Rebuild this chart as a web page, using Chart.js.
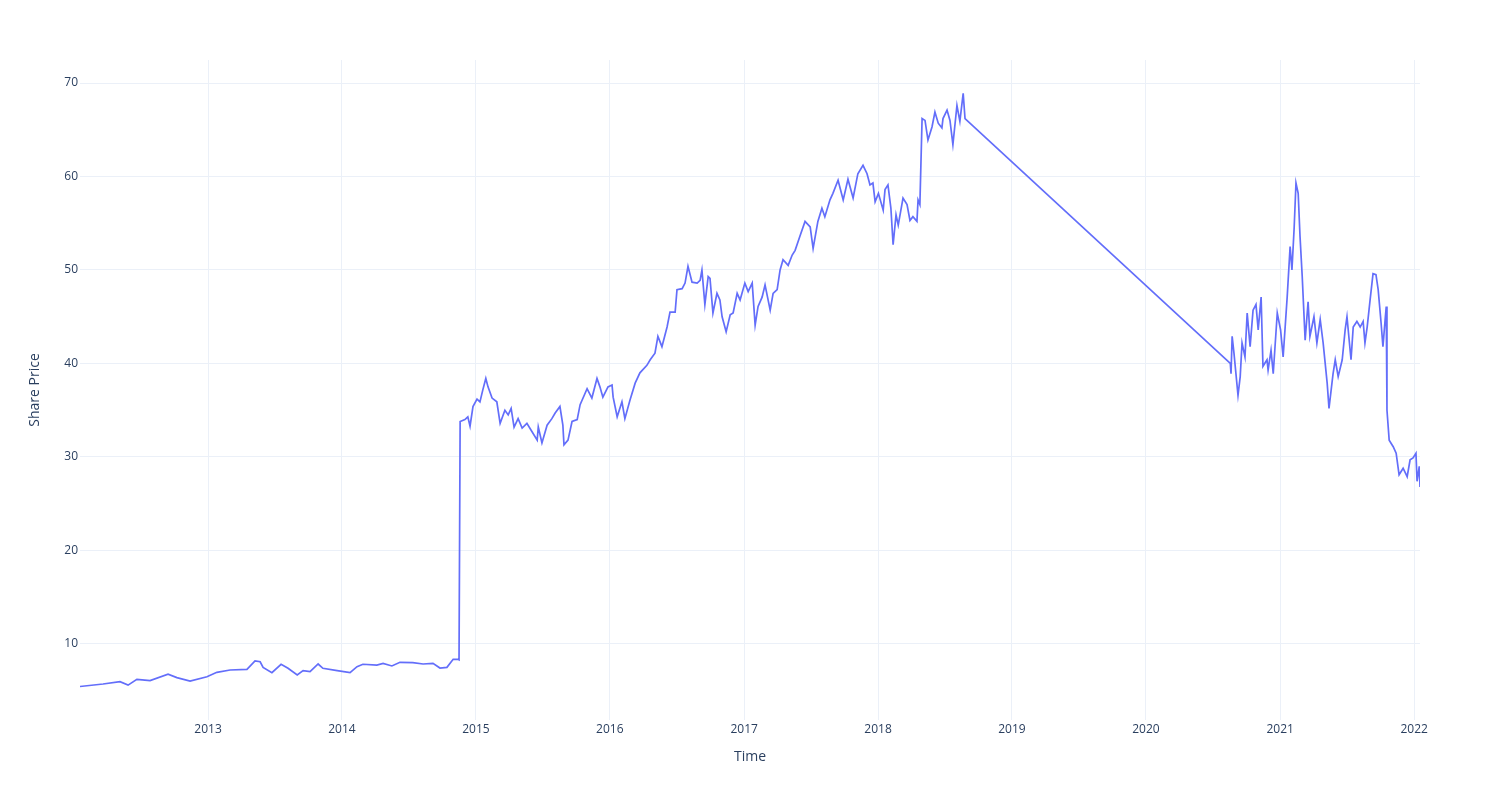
<!DOCTYPE html>
<html>
<head>
<meta charset="utf-8">
<script src="https://cdn.jsdelivr.net/npm/chart.js@4/dist/chart.umd.min.js"></script>
<style>
  body { margin: 0; background: #fff; }
  #wrap { width: 1500px; height: 800px; }
</style>
</head>
<body>
<div id="wrap"><canvas id="chart" width="1500" height="800"></canvas></div>
<script>
// share price
const dates = [
  '2012-01-18','2012-03-21','2012-05-06','2012-05-28','2012-06-21','2012-07-27','2012-09-14','2012-10-08','2012-11-13','2012-12-29',
  '2013-01-25','2013-03-02','2013-04-17','2013-05-09','2013-05-23','2013-05-31','2013-06-24','2013-07-19','2013-08-07','2013-09-01',
  '2013-09-17','2013-10-06','2013-10-28','2013-11-10','2013-12-19',
  '2014-01-23','2014-02-11','2014-02-27','2014-04-06','2014-04-23','2014-05-17','2014-06-08','2014-07-13','2014-08-10','2014-09-06',
  '2014-09-25','2014-10-14','2014-10-31','2014-11-13','2014-11-16','2014-11-19','2014-12-02','2014-12-10','2014-12-16','2014-12-24',
  '2015-01-04','2015-01-12','2015-01-20','2015-01-28','2015-02-03','2015-02-14','2015-02-27','2015-03-08','2015-03-21','2015-03-30',
  '2015-04-07','2015-04-15','2015-04-26','2015-05-07','2015-05-20','2015-06-03','2015-06-17','2015-06-20','2015-06-30','2015-07-14',
  '2015-07-27','2015-08-05','2015-08-18','2015-08-26','2015-08-29','2015-09-09','2015-09-20','2015-10-04','2015-10-12','2015-10-31',
  '2015-11-13','2015-11-27','2015-12-05','2015-12-13','2015-12-27',
  '2016-01-07','2016-01-10','2016-01-21','2016-02-03','2016-02-11','2016-02-25','2016-03-10','2016-03-23','2016-04-11','2016-04-20',
  '2016-05-03','2016-05-11','2016-05-22','2016-06-05','2016-06-13','2016-06-27','2016-07-02','2016-07-16','2016-07-24','2016-08-01',
  '2016-08-12','2016-08-26','2016-09-03','2016-09-08','2016-09-16','2016-09-25','2016-09-30','2016-10-08','2016-10-19','2016-10-27',
  '2016-11-02','2016-11-13','2016-11-24','2016-12-02','2016-12-13','2016-12-21',
  '2017-01-03','2017-01-12','2017-01-23','2017-01-31','2017-02-08','2017-02-19','2017-02-27','2017-03-13','2017-03-21','2017-04-01',
  '2017-04-09','2017-04-17','2017-05-01','2017-05-12','2017-05-20','2017-06-02','2017-06-16','2017-06-30','2017-07-08','2017-07-21',
  '2017-08-01','2017-08-09','2017-08-23','2017-08-31','2017-09-14','2017-09-28','2017-10-11','2017-10-25','2017-11-07','2017-11-21',
  '2017-12-02','2017-12-10','2017-12-18','2017-12-24',
  '2018-01-02','2018-01-15','2018-01-20','2018-01-28','2018-02-05','2018-02-11','2018-02-19','2018-02-25','2018-03-10','2018-03-21',
  '2018-03-29','2018-04-06','2018-04-17','2018-04-20','2018-04-25','2018-05-01','2018-05-09','2018-05-17','2018-05-28','2018-06-05',
  '2018-06-14','2018-06-24','2018-06-27','2018-07-08','2018-07-16','2018-07-24','2018-08-04','2018-08-12','2018-08-21','2018-08-26',
  '2020-08-18','2020-08-20','2020-08-23','2020-08-28','2020-09-08','2020-09-14','2020-09-19','2020-09-27','2020-10-03','2020-10-11',
  '2020-10-19','2020-10-27','2020-11-02','2020-11-10','2020-11-15','2020-11-26','2020-11-29','2020-12-07','2020-12-13','2020-12-24',
  '2021-01-02','2021-01-09','2021-01-20','2021-01-28','2021-02-02','2021-02-08','2021-02-13','2021-02-19','2021-02-24','2021-03-02',
  '2021-03-10','2021-03-18','2021-03-23','2021-04-03','2021-04-11','2021-04-20','2021-04-28','2021-05-09','2021-05-14','2021-05-25',
  '2021-05-31','2021-06-08','2021-06-19','2021-06-27','2021-07-02','2021-07-13','2021-07-19','2021-07-29','2021-08-07','2021-08-15',
  '2021-08-20','2021-08-26','2021-09-03','2021-09-11','2021-09-19','2021-09-25','2021-10-03','2021-10-08','2021-10-14','2021-10-17',
  '2021-10-19','2021-10-25','2021-11-05','2021-11-13','2021-11-21','2021-12-02','2021-12-13','2021-12-21','2021-12-29',
  '2022-01-06','2022-01-09','2022-01-15','2022-01-17'
];

const prices = [
  5.45, 5.72, 5.97, 5.6, 6.22, 6.08, 6.76, 6.4, 6.04, 6.5,
  6.97, 7.22, 7.29, 8.18, 8.1, 7.5, 6.93, 7.83, 7.4, 6.68,
  7.15, 7.04, 7.86, 7.4, 7.15,
  6.93, 7.58, 7.83, 7.75, 7.93, 7.65, 8.04, 8.0, 7.86, 7.93,
  7.43, 7.5, 8.36, 8.36, 8.3, 33.8, 34.0, 34.3, 33.3, 35.4,
  36.2, 35.9, 37.2, 38.4, 37.5, 36.3, 35.9, 33.6, 35.0, 34.5,
  35.2, 33.2, 34.1, 33.1, 33.6, 32.7, 31.8, 33.2, 31.5, 33.4,
  34.1, 34.7, 35.4, 33.4, 31.3, 31.8, 33.8, 34.0, 35.6, 37.3,
  36.3, 38.4, 37.5, 36.4, 37.5,
  37.7, 36.4, 34.3, 35.9, 34.1, 36.1, 37.9, 39.0, 39.8, 40.4,
  41.1, 42.9, 41.8, 43.9, 45.5, 45.5, 47.9, 48.0, 48.6, 50.4,
  48.7, 48.6, 48.9, 50.0, 46.3, 49.3, 49.1, 45.4, 47.5, 46.8,
  45.0, 43.4, 45.2, 45.4, 47.5, 46.8,
  48.6, 47.7, 48.6, 44.1, 46.1, 47.1, 48.4, 45.7, 47.5, 47.9,
  50.0, 51.1, 50.5, 51.6, 52.1, 53.6, 55.2, 54.6, 52.3, 55.2,
  56.6, 55.7, 57.5, 58.2, 59.6, 57.5, 59.7, 57.7, 60.3, 61.2,
  60.3, 59.1, 59.3, 57.3,
  58.2, 56.4, 58.6, 59.1, 56.6, 52.7, 55.9, 54.8, 57.7, 57.0,
  55.3, 55.7, 55.2, 57.5, 57.0, 66.2, 66.0, 63.9, 65.3, 66.9,
  65.7, 65.2, 66.2, 67.1, 66.0, 63.4, 67.6, 65.9, 68.9, 66.2,
  40.0, 38.9, 42.9, 41.1, 36.6, 38.6, 42.2, 40.7, 45.4, 41.8,
  45.7, 46.3, 43.6, 47.1, 39.7, 40.4, 39.3, 41.4, 38.9, 45.4,
  43.6, 40.7, 47.1, 52.5, 50.0, 54.5, 59.3, 58.2, 53.6, 49.3,
  42.5, 46.6, 42.9, 45.0, 42.2, 44.7, 42.2, 37.9, 35.2, 38.9,
  40.4, 38.6, 40.4, 43.6, 45.0, 40.4, 43.9, 44.5, 43.9, 44.5,
  42.2, 43.9, 46.8, 49.6, 49.5, 47.9, 44.3, 41.8, 44.7, 46.1,
  35.0, 31.8, 31.1, 30.4, 28.1, 28.8, 27.9, 29.7, 29.9,
  30.4, 27.4, 29.0, 26.8
];

const yearTicks = [2013, 2014, 2015, 2016, 2017, 2018, 2019, 2020, 2021, 2022];

const textColor = '#2a3f5f';
const gridColor = '#ebf0f8';
Chart.defaults.font.family = '"Open Sans", "DejaVu Sans", sans-serif';
Chart.defaults.color = textColor;

const points = dates.map((d, i) => ({ x: Date.parse(d), y: prices[i] }));

const ctx = document.getElementById('chart').getContext('2d');
new Chart(ctx, {
  type: 'line',
  data: {
    datasets: [{
      label: 'Share Price',
      data: points,
      borderColor: '#636efa',
      borderWidth: 1.7,
      pointRadius: 0,
      tension: 0,
      fill: false,
    }],
  },
  options: {
    responsive: false,
    animation: false,
    layout: { padding: { left: 0, right: 80, top: 60, bottom: 0 } },
    plugins: { legend: { display: false }, tooltip: { enabled: false } },
    scales: {
      x: {
        type: 'linear',
        min: Date.parse(dates[0]),
        max: Date.parse(dates[dates.length - 1]),
        afterBuildTicks: (scale) => {
          scale.ticks = yearTicks.map((y) => ({ value: Date.UTC(y, 0, 1) }));
        },
        afterFit: (scale) => { scale.height = 80; },
        ticks: {
          autoSkip: false,
          maxRotation: 0,
          padding: 2,
          font: { size: 12 },
          callback: (v) => new Date(v).getUTCFullYear(),
        },
        grid: { color: gridColor, drawTicks: false },
        border: { display: false },
        title: { display: true, text: 'Time', font: { size: 14 }, padding: { top: 0, bottom: 35 } },
      },
      y: {
        min: 1.87,
        max: 72.46,
        afterFit: (scale) => { scale.width = 80; },
        ticks: { stepSize: 10, includeBounds: false, padding: 2, font: { size: 12 } },
        grid: { color: gridColor, drawTicks: false },
        border: { display: false },
        title: { display: true, text: 'Share Price', font: { size: 14 }, padding: { top: 27, bottom: 0 } },
      },
    },
  },
});
</script>
</body>
</html>
